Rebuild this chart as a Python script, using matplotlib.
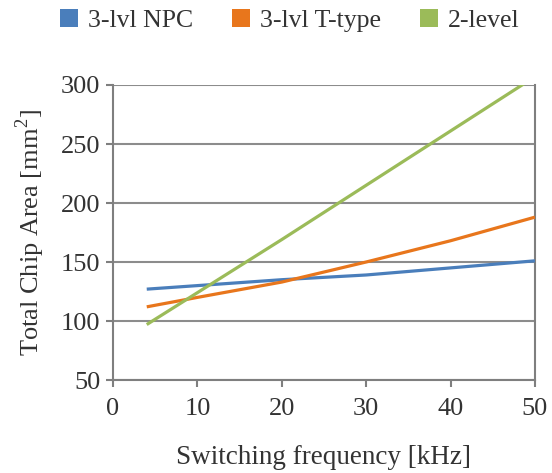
import matplotlib.pyplot as plt
from matplotlib.patches import Patch

# === Data ===
freq = [4, 10, 20, 30, 40, 50]
npc = [127, 130, 135, 139, 145, 151]
ttype = [112, 120, 133, 150, 168, 188]
two_level = [97, 124, 169, 215, 261, 307]

series = ["3-lvl NPC", "3-lvl T-type", "2-level"]
colors = ["#4A7EBB", "#E8761C", "#9BBB59"]

plt.rcParams['font.family'] = ['Liberation Serif', 'DejaVu Serif']
plt.rcParams['mathtext.fontset'] = 'custom'
plt.rcParams['mathtext.rm'] = 'Liberation Serif'

fig = plt.figure(figsize=(5.52, 4.73), dpi=100)
ax = fig.add_axes([0.2047, 0.1966, 0.7643, 0.6237])

for vals, c in zip([npc, ttype, two_level], colors):
    ax.plot(freq, vals, color=c, lw=2.3, solid_capstyle='butt', zorder=3)

ax.set_xlim(0, 50)
ax.set_ylim(50, 300)
ax.set_xticks(range(0, 51, 10))
ax.set_yticks(range(50, 301, 50))
ax.yaxis.grid(True, color="#8C8C8C", lw=1.5)
ax.set_axisbelow(True)

for side in ["left", "bottom", "right"]:
    ax.spines[side].set_color("#7F7F7F")
    ax.spines[side].set_linewidth(1.5)
ax.spines["top"].set_visible(False)

ax.tick_params(axis='both', colors="#7F7F7F", width=1.5, length=5,
               labelsize=19, labelcolor="#333333", direction='out')
ax.tick_params(axis='x', pad=8)
ax.tick_params(axis='y', pad=4)

ax.set_xlabel("Switching frequency [kHz]", fontsize=19.5, color="#333333", labelpad=18)
ax.set_ylabel(r"Total Chip Area [mm$^{\mathrm{2}}$]", fontsize=19, color="#333333", labelpad=10)

handles = [Patch(facecolor=c, label=s) for s, c in zip(series, colors)]
fig.legend(handles=handles, loc="upper center", bbox_to_anchor=(0.525, 1.03), ncol=3,
           frameon=False, fontsize=18.5, handlelength=0.7, handleheight=0.7,
           handletextpad=0.4, columnspacing=1.5, labelcolor="#333333")

fig.savefig("out.png", dpi=100)
